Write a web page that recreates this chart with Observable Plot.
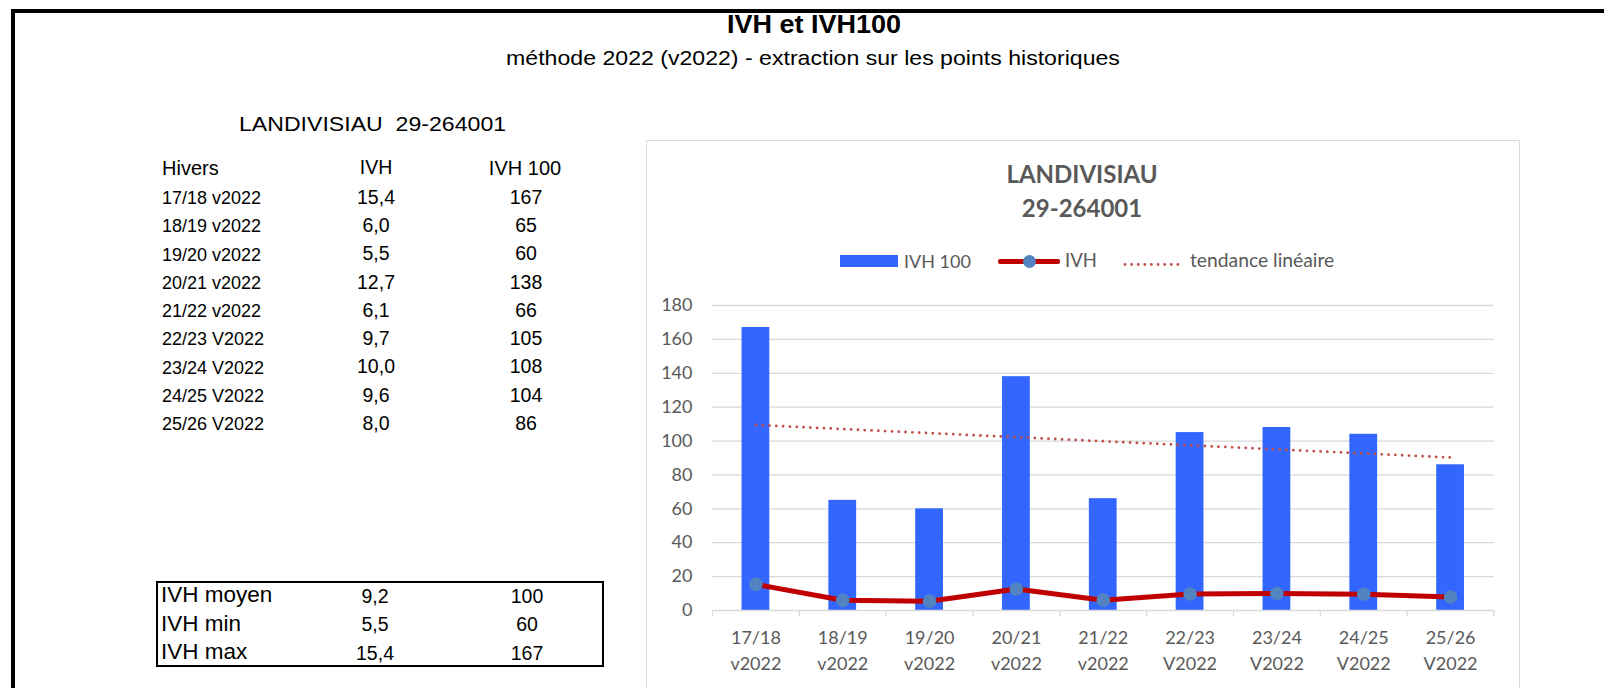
<!DOCTYPE html>
<html><head><meta charset="utf-8">
<script src="https://cdn.jsdelivr.net/npm/d3@7"></script>
<script src="https://cdn.jsdelivr.net/npm/@observablehq/plot@0.6"></script>
<style>
html,body{margin:0;padding:0;background:#fff;}
body{width:1604px;height:688px;overflow:hidden;position:relative;font-family:"Liberation Sans",Arial,sans-serif;color:#000;}
.abs{position:absolute;white-space:pre;line-height:1;}
</style></head><body>
<script>
// ---------- data ----------
const hivers = ["17/18 v2022","18/19 v2022","19/20 v2022","20/21 v2022","21/22 v2022","22/23 V2022","23/24 V2022","24/25 V2022","25/26 V2022"];
const ivh = [15.4, 6.0, 5.5, 12.7, 6.1, 9.7, 10.0, 9.6, 8.0];
const ivh100 = [167, 65, 60, 138, 66, 105, 108, 104, 86];
const yTicks = [0, 20, 40, 60, 80, 100, 120, 140, 160, 180];
const station = "LANDIVISIAU";
const stationCode = "29-264001";
const mainTitle = "IVH et IVH100";
const subTitle = "méthode 2022 (v2022) - extraction sur les points historiques";
const legendLabels = ["IVH 100", "IVH", "tendance linéaire"];
const statLabels = ["IVH moyen", "IVH min", "IVH max"];

// ---------- helpers ----------
const BL = {lib: 0.8465, lato: 0.887};
function txt(str, o) {
  const d = document.createElement("div");
  d.className = "abs";
  d.textContent = str;
  const fs = o.size;
  d.style.fontSize = fs + "px";
  d.style.fontFamily = o.lato ? "Lato" : "'Liberation Sans', Arial";
  if (o.bold) d.style.fontWeight = "bold";
  if (o.color) d.style.color = o.color;
  d.style.top = (o.baseline - (o.lato ? BL.lato : BL.lib) * fs) + "px";
  d.style.left = o.x + "px";
  let tr = "";
  if (o.anchor === "middle") tr += "translateX(-50%) ";
  if (o.anchor === "end") tr += "translateX(-100%) ";
  if (o.sx) { tr += `scaleX(${o.sx})`; d.style.transformOrigin = o.anchor === "middle" ? "50% 50%" : "0 50%"; }
  if (tr) d.style.transform = tr;
  document.body.appendChild(d);
  return d;
}
function box(o) {
  const d = document.createElement("div");
  d.style.position = "absolute";
  Object.assign(d.style, o);
  document.body.appendChild(d);
  return d;
}
const fmt1 = v => v.toFixed(1).replace(".", ",");

// ---------- page frame & titles ----------
box({left: "11px", top: "9px", width: "1700px", height: "800px", borderTop: "4.5px solid #000", borderLeft: "4.5px solid #000", boxSizing: "border-box"});
txt(mainTitle, {x: 814, baseline: 33, size: 25, bold: true, anchor: "middle", sx: 1.08});
txt(subTitle, {x: 813, baseline: 65, size: 21, anchor: "middle", sx: 1.1});

// ---------- left table ----------
txt(station + "  " + stationCode, {x: 239, baseline: 131, size: 21, sx: 1.1});
txt("Hivers", {x: 162, baseline: 175, size: 20});
txt("IVH", {x: 376, baseline: 175, size: 19.5, anchor: "middle"});
txt("IVH 100", {x: 525, baseline: 175, size: 20, anchor: "middle"});
hivers.forEach((h, i) => {
  const b = 204.3 + 28.25 * i;
  txt(h, {x: 162, baseline: b, size: 18});
  txt(fmt1(ivh[i]), {x: 376, baseline: b, size: 19.5, anchor: "middle"});
  txt(String(ivh100[i]), {x: 526, baseline: b, size: 19.5, anchor: "middle"});
});
box({left: "156px", top: "581px", width: "448px", height: "86px", border: "2px solid #000", boxSizing: "border-box"});
const statsIvh = [d3.mean(ivh), d3.min(ivh), d3.max(ivh)];
const stats100 = [d3.mean(ivh100), d3.min(ivh100), d3.max(ivh100)];
statLabels.forEach((s, i) => {
  const b = 603.5 + 28.5 * i;
  txt(s, {x: 161, baseline: b, size: 22.5});
  txt(fmt1(statsIvh[i]), {x: 375, baseline: b, size: 19.5, anchor: "middle"});
  txt(String(Math.round(stats100[i])), {x: 527, baseline: b, size: 19.5, anchor: "middle"});
});

// ---------- chart frame, title, legend ----------
box({left: "645.5px", top: "139.5px", width: "874px", height: "700px", border: "1.5px solid #d9d9d9", boxSizing: "border-box"});
txt(station, {x: 1082, baseline: 183.5, size: 24, bold: true, lato: true, color: "#595959", anchor: "middle"});
txt(stationCode, {x: 1082, baseline: 217.5, size: 24, bold: true, lato: true, color: "#595959", anchor: "middle"});

const blue = "#3366ff", red = "#c00000", dotBlue = "#5184c0", trendRed = "#c0504d";
box({left: "840px", top: "255px", width: "58px", height: "12px", background: blue});
txt(legendLabels[0], {x: 904, baseline: 267.5, size: 18, lato: true, color: "#595959"});
box({left: "998px", top: "258.5px", width: "62px", height: "5px", background: red, borderRadius: "2px"});
box({left: "1022.5px", top: "254.5px", width: "13px", height: "13px", background: dotBlue, borderRadius: "50%"});
txt(legendLabels[1], {x: 1065, baseline: 267.5, size: 18.5, lato: true, color: "#595959"});
const ld = box({left: "1122px", top: "255px", width: "64px", height: "10px"});
ld.innerHTML = `<svg width="64" height="10"><line x1="3" x2="61" y1="5.5" y2="5.5" stroke="${trendRed}" stroke-width="2.8" stroke-linecap="round" stroke-dasharray="0.01 6.6"/></svg>`;
txt(legendLabels[2], {x: 1190, baseline: 267.5, size: 19.3, lato: true, color: "#595959"});

// ---------- plot ----------
const data = hivers.map((h, i) => ({hiver: h, ivh: ivh[i], ivh100: ivh100[i], i}));
const mx = d3.mean(data, d => d.i), my = d3.mean(data, d => d.ivh100);
const slope = d3.sum(data, d => (d.i - mx) * (d.ivh100 - my)) / d3.sum(data, d => (d.i - mx) ** 2);
const trend = data.map(d => ({hiver: d.hiver, v: my + slope * (d.i - mx)}));

const W = 873, H = 408, mL = 66, mR = 25.5, mT = 25, mB = 78;
const step = (W - mL - mR) / hivers.length;
const gridCol = "#d9d9d9";

const chart = Plot.plot({
  width: W, height: H,
  marginLeft: mL, marginRight: mR, marginTop: mT, marginBottom: mB,
  style: {fontFamily: "Lato", fontSize: "18px", color: "#595959", background: "transparent", overflow: "visible"},
  x: {domain: hivers, paddingInner: 0.68, paddingOuter: 0.34, round: false, label: null},
  y: {domain: [0, 180], label: null},
  marks: [
    Plot.gridY(yTicks.filter(t => t > 0), {stroke: gridCol, strokeOpacity: 1, strokeWidth: 1.3}),
    Plot.barY(data, {x: "hiver", y: "ivh100", fill: blue}),
    Plot.ruleY([0], {stroke: gridCol, strokeWidth: 1.3}),
    Plot.ruleX(hivers, {x: d => d, y1: 0, y2: 0, insetBottom: -6, dx: -step / 2, stroke: gridCol, strokeWidth: 1.3}),
    Plot.ruleX(hivers.slice(-1), {x: d => d, y1: 0, y2: 0, insetBottom: -6, dx: step / 2, stroke: gridCol, strokeWidth: 1.3}),
    Plot.line(trend, {x: "hiver", y: "v", stroke: trendRed, strokeWidth: 2.8, strokeLinecap: "round", strokeDasharray: "0.01 6.8"}),
    Plot.line(data, {x: "hiver", y: "ivh", stroke: red, strokeWidth: 5}),
    Plot.dot(data, {x: "hiver", y: "ivh", r: 6.8, fill: dotBlue}),
    Plot.axisY({ticks: yTicks, tickSize: 0, tickPadding: 20, label: null}),
    Plot.axisX({tickSize: 0, tickPadding: 16, label: null, lineHeight: 1.4, tickFormat: d => d.replace(" ", "\n")})
  ]
});
chart.style.position = "absolute";
chart.style.left = "646px";
chart.style.top = "280px";
document.body.appendChild(chart);
</script>
</body></html>
